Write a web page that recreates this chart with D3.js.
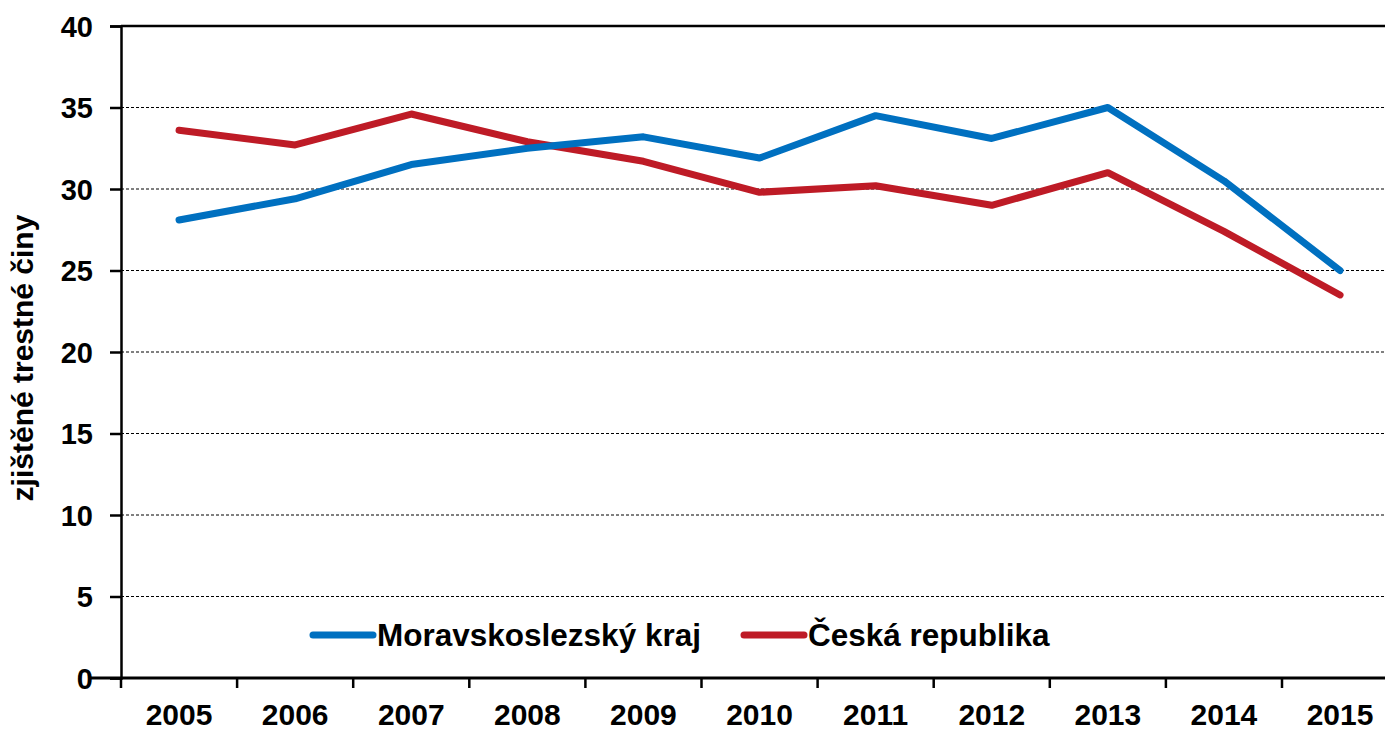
<!DOCTYPE html>
<html lang="cs">
<head>
<meta charset="utf-8">
<title>zjištěné trestné činy</title>
<style>
  body { margin: 0; background: #fff; }
  text { font-family: "Liberation Sans", Arial, sans-serif; font-weight: bold; fill: #000; }
  .grid line { stroke: #000; stroke-width: 1; stroke-dasharray: 3,2; }
</style>
</head>
<body>
<script src="https://cdn.jsdelivr.net/npm/d3@7"></script>
<script>
// data
var years = ["2005","2006","2007","2008","2009","2010","2011","2012","2013","2014","2015"];
var moravskoslezsky = [28.1, 29.4, 31.5, 32.5, 33.2, 31.9, 34.5, 33.1, 35.0, 30.5, 25.0];
var ceskaRepublika = [33.6, 32.7, 34.6, 32.9, 31.7, 29.8, 30.2, 29.0, 31.0, 27.4, 23.5];
var yTicks = [0, 5, 10, 15, 20, 25, 30, 35, 40];

var width = 1385, height = 729;
var plotLeft = 121, plotTop = 26, plotBottom = 678;
var plotRight = 121 + 11 * 116.1; // plot runs past the window edge

var svg = d3.select("body").append("svg")
    .attr("width", width)
    .attr("height", height);

var x = d3.scaleBand().domain(years).range([plotLeft, plotRight]);
var y = d3.scaleLinear().domain([0, 40]).range([plotBottom, plotTop]);

// grid lines (dashed)
svg.append("g").attr("class", "grid")
  .selectAll("line")
  .data(yTicks.filter(function(d) { return d > 0 && d < 40; }))
  .enter().append("line")
  .attr("x1", plotLeft).attr("x2", plotRight)
  .attr("y1", function(d) { return y(d); })
  .attr("y2", function(d) { return y(d); });

// top border
svg.append("line")
  .attr("x1", plotLeft).attr("x2", plotRight)
  .attr("y1", y(40)).attr("y2", y(40))
  .attr("stroke", "#000").attr("stroke-width", 2.5);

// y axis
var yAxis = svg.append("g")
  .attr("transform", "translate(" + plotLeft + ",0)")
  .call(d3.axisLeft(y).tickValues(yTicks).tickSize(11).tickPadding(17));
yAxis.select(".domain").attr("stroke-width", 2.5);
yAxis.selectAll(".tick line").attr("stroke-width", 2.5);
yAxis.selectAll("text").style("font-size", "29px").attr("dy", "0.36em");

// x axis: ticks at category boundaries
var xg = svg.append("g").attr("transform", "translate(0," + plotBottom + ")");
xg.append("line")
  .attr("x1", plotLeft - 30).attr("x2", plotRight)
  .attr("stroke", "#000").attr("stroke-width", 3);
xg.selectAll(".xt")
  .data(years.concat(["end"]))
  .enter().append("line")
  .attr("class", "xt")
  .attr("x1", function(d, i) { return plotLeft + i * x.bandwidth(); })
  .attr("x2", function(d, i) { return plotLeft + i * x.bandwidth(); })
  .attr("y1", 0).attr("y2", 10)
  .attr("stroke", "#000").attr("stroke-width", 2.5);
xg.selectAll(".xl")
  .data(years)
  .enter().append("text")
  .attr("class", "xl")
  .attr("x", function(d) { return x(d) + x.bandwidth() / 2; })
  .attr("y", 47)
  .attr("text-anchor", "middle")
  .style("font-size", "30px")
  .text(function(d) { return d; });

// y axis title
svg.append("text")
  .attr("transform", "translate(33,358) rotate(-90)")
  .attr("text-anchor", "middle")
  .style("font-size", "30px")
  .text("zjištěné trestné činy");

// lines
var line = d3.line()
  .x(function(d, i) { return x(years[i]) + x.bandwidth() / 2; })
  .y(function(d) { return y(d); });

var series = [
  { name: "Moravskoslezský kraj", values: moravskoslezsky, color: "#0070c0" },
  { name: "Česká republika", values: ceskaRepublika, color: "#be1b26" }
];

svg.selectAll(".serie")
  .data(series.slice().reverse())
  .enter().append("path")
  .attr("class", "serie")
  .attr("d", function(d) { return line(d.values); })
  .attr("fill", "none")
  .attr("stroke", function(d) { return d.color; })
  .attr("stroke-width", 7)
  .attr("stroke-linejoin", "round")
  .attr("stroke-linecap", "round");

// legend
var legendX = [313, 744];
var lg = svg.selectAll(".legend")
  .data(series)
  .enter().append("g")
  .attr("class", "legend")
  .attr("transform", function(d, i) { return "translate(" + legendX[i] + ",635)"; });
lg.append("line")
  .attr("x1", 0).attr("x2", 60)
  .attr("stroke", function(d) { return d.color; })
  .attr("stroke-width", 7)
  .attr("stroke-linecap", "round");
lg.append("text")
  .attr("x", 64)
  .attr("dy", "0.36em")
  .style("font-size", "31.5px")
  .text(function(d) { return d.name; });
</script>
</body>
</html>
